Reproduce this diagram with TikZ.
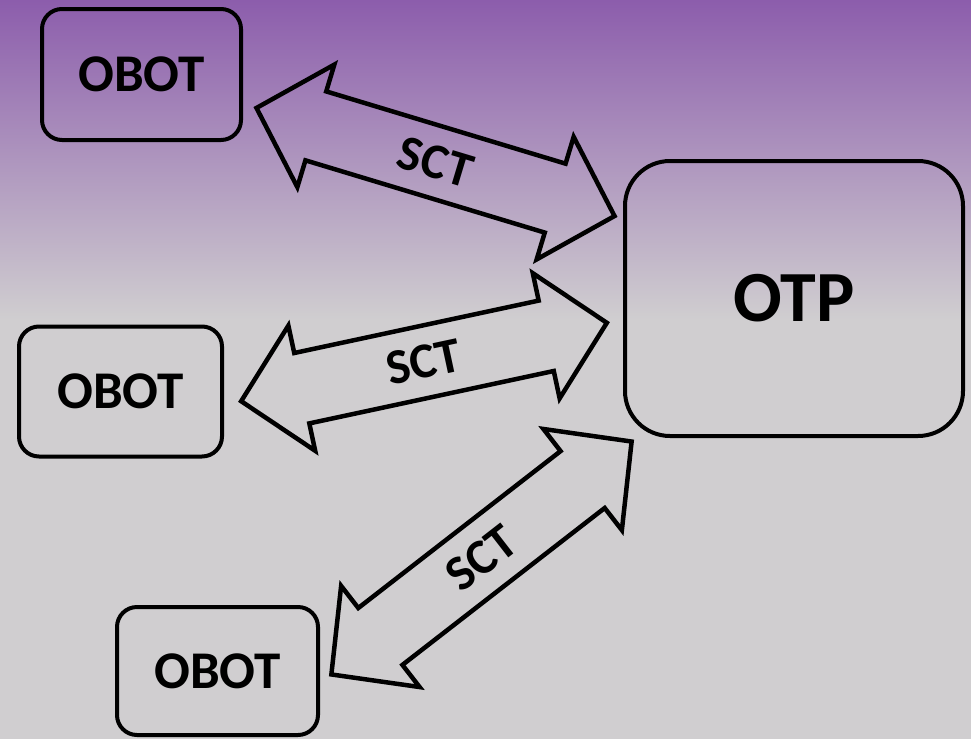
\documentclass[tikz,border=0pt]{standalone}
\usepackage{fontspec}
\setmainfont{Carlito}
\definecolor{bgtop}{HTML}{8C5DAC}
\definecolor{bggray}{HTML}{D0CED0}
\tikzset{
  box/.style={draw=black, line width=4pt, rounded corners=20pt, font=\bfseries\fontsize{53}{60}\selectfont, inner sep=0pt},
  bigbox/.style={box, rounded corners=45pt, font=\bfseries\fontsize{72}{80}\selectfont},
  blockarrow/.style={draw=black, line width=4.5pt, line join=miter, miter limit=10},
  arrowlabel/.style={font=\bfseries\fontsize{50}{54}\selectfont, inner sep=0pt}
}
\newcommand{\blockarr}[4]{%
  % #1 name, #2 center, #3 angle, #4 total length
  \begin{scope}[shift={#2}, rotate=#3]
    \pgfmathsetmacro{\hL}{#4/2}
    \pgfmathsetmacro{\nL}{#4/2-62}
    \draw[blockarrow] (-\hL,0) -- (-\nL,-64) -- (-\nL,-36) -- (\nL,-36) -- (\nL,-64) -- (\hL,0)
      -- (\nL,64) -- (\nL,36) -- (-\nL,36) -- (-\nL,64) -- cycle;
    \node[arrowlabel, rotate=#3] (#1) at (0,0) {SCT};
  \end{scope}}
\begin{document}
\begin{tikzpicture}[x=1pt, y=-1pt]
\useasboundingbox (0,0) rectangle (971,739);
\shade[top color=bgtop, bottom color=bggray] (0,0) rectangle (971,320);
\fill[bggray] (0,319) rectangle (971,739);
\node[box, minimum width=199pt, minimum height=131pt] (obot1) at (141.5,74.5) {OBOT};
\node[box, minimum width=203pt, minimum height=130pt] (obot2) at (120.5,391.5) {OBOT};
\node[box, minimum width=201pt, minimum height=128pt] (obot3) at (217.5,671) {OBOT};
\node[bigbox, minimum width=338pt, minimum height=275pt] (otp) at (794,298.5) {OTP};
\blockarr{sct1}{(435.5,162)}{-16.8}{374}
\blockarr{sct2}{(424,362)}{12.1}{374}
\blockarr{sct3}{(481.5,558)}{37.8}{380}
\end{tikzpicture}
\end{document}
